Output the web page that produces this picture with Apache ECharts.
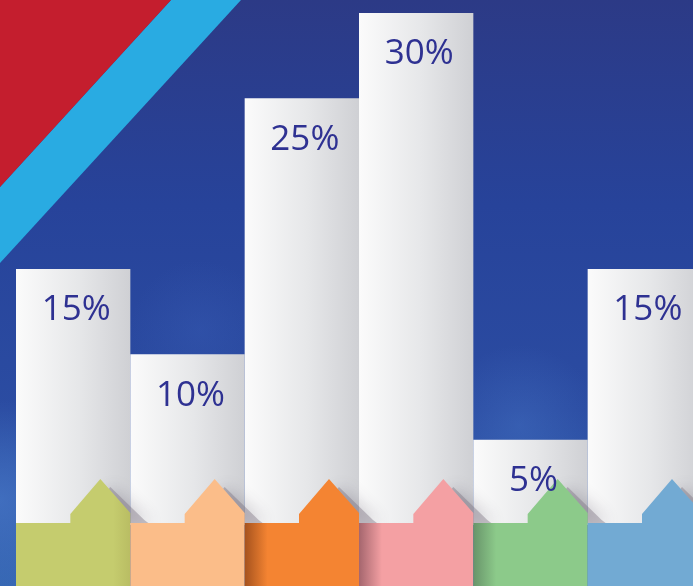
<!DOCTYPE html>
<html>
<head>
<meta charset="utf-8">
<script src="https://cdn.jsdelivr.net/npm/echarts@6/dist/echarts.min.js"></script>
<style>
  html, body { margin: 0; padding: 0; background: #2a4396; }
  #chart { width: 693px; height: 586px; }
</style>
</head>
<body>
<div id="chart"></div>
<script>
// ---- data ----
const categories = ['A', 'B', 'C', 'D', 'E', 'F'];
const values = [15, 10, 25, 30, 5, 15];
const labels = ['15%', '10%', '25%', '30%', '5%', '15%'];

// ---- styles ----
const baseColors = ['#c5cc6e', '#fbbd89', '#f48432', '#f4a0a3', '#8cca8a', '#72aad3'];
const baseShade = ['#c5cc6e', '#fbbd89', '#a5521e', '#a5666e', '#68946a', '#72aad3'];

const chart = echarts.init(document.getElementById('chart'), null, { renderer: 'canvas' });

const whiteGrad = new echarts.graphic.LinearGradient(0, 0, 1, 0, [
  { offset: 0, color: '#fbfbfb' },
  { offset: 0.55, color: '#e6e7e9' },
  { offset: 1, color: '#cfd0d4' }
]);

function renderBase(params, api) {
  const i = api.value(0);
  const p = api.coord([i, 0]);
  const w = api.size([1, 0])[0];
  const left = p[0] - w / 2;
  const right = p[0] + w / 2;
  const top = p[1] - 2;
  const H = api.getHeight();
  const hw = 60, peak = 44, shoulder = 9;
  const hl = right - hw;
  const pk = right - hw / 2;
  const c = baseColors[i];
  const s = baseShade[i];
  const fill = new echarts.graphic.LinearGradient(0, 0, 1, 0, [
    { offset: 0, color: s },
    { offset: 0.2, color: c },
    { offset: 0.85, color: c },
    { offset: 1, color: i === 0 ? '#b9bd63' : c }
  ]);
  return {
    type: 'group',
    children: [
      {
        type: 'polygon',
        shape: { points: [[hl + 12, top], [hl + 12, top - shoulder + 6], [pk + 10, top - peak + 8], [right + 14, top - shoulder + 6], [right + 18, top]] },
        style: { fill: 'rgba(120,110,125,0.4)', shadowBlur: 16, shadowOffsetX: 3, shadowColor: 'rgba(70,60,80,0.65)' },
        z2: 1
      },
      {
        type: 'polygon',
        shape: { points: [[left, H], [left, top], [hl, top], [hl, top - shoulder], [pk, top - peak], [right, top - shoulder - 1], [right, H]] },
        style: { fill: fill },
        z2: 2
      }
    ]
  };
}

const option = {
  animation: false,
  backgroundColor: new echarts.graphic.LinearGradient(0, 0, 0, 1, [
    { offset: 0, color: '#2c3a86' },
    { offset: 0.35, color: '#27439a' },
    { offset: 0.7, color: '#2b4ca2' },
    { offset: 1, color: '#3566b2' }
  ]),
  graphic: [
    {
      type: 'circle', z: -10, silent: true,
      shape: { cx: 520, cy: 425, r: 80 },
      style: { fill: new echarts.graphic.RadialGradient(0.5, 0.5, 0.5, [
        { offset: 0, color: 'rgba(80,130,210,0.3)' }, { offset: 1, color: 'rgba(80,130,210,0)' }]) }
    },
    {
      type: 'circle', z: -10, silent: true,
      shape: { cx: 0, cy: 500, r: 100 },
      style: { fill: new echarts.graphic.RadialGradient(0.5, 0.5, 0.5, [
        { offset: 0, color: 'rgba(80,130,210,0.5)' }, { offset: 1, color: 'rgba(80,130,210,0)' }]) }
    },
    {
      type: 'circle', z: -10, silent: true,
      shape: { cx: 200, cy: 330, r: 70 },
      style: { fill: new echarts.graphic.RadialGradient(0.5, 0.5, 0.5, [
        { offset: 0, color: 'rgba(70,110,200,0.2)' }, { offset: 1, color: 'rgba(70,110,200,0)' }]) }
    },
    {
      type: 'polygon', z: -5, silent: true,
      shape: { points: [[171, 0], [241, 0], [0, 263], [0, 187]] },
      style: { fill: '#29abe2' }
    },
    {
      type: 'polygon', z: -5, silent: true,
      shape: { points: [[0, 0], [171, 0], [0, 187]] },
      style: { fill: '#c41e2e' }
    }
  ],
  grid: { left: 16, right: -9, top: 13, bottom: 61, containLabel: false, outerBoundsMode: 'none' },
  xAxis: {
    type: 'category', data: categories, show: false, boundaryGap: true
  },
  yAxis: {
    type: 'value', min: 0, max: 30, show: false
  },
  series: [
    {
      type: 'bar', z: 2,
      data: values,
      barWidth: '100%',
      barGap: '-100%',
      itemStyle: { color: whiteGrad },
      silent: true
    },
    {
      type: 'custom', z: 3,
      data: values.map((v, i) => [i, v]),
      encode: { x: 0, y: 1 },
      renderItem: renderBase,
      clip: false,
      silent: true
    },
    {
      type: 'bar', z: 10,
      data: values,
      barWidth: '100%',
      barGap: '-100%',
      itemStyle: { color: 'rgba(0,0,0,0)' },
      label: {
        show: true,
        position: 'insideTop',
        distance: 24,
        offset: [3, 0],
        formatter: (p) => labels[p.dataIndex],
        fontFamily: 'Open Sans',
        fontSize: 35,
        color: '#2e3192'
      },
      silent: true
    }
  ]
};
chart.setOption(option);
</script>
</body>
</html>
